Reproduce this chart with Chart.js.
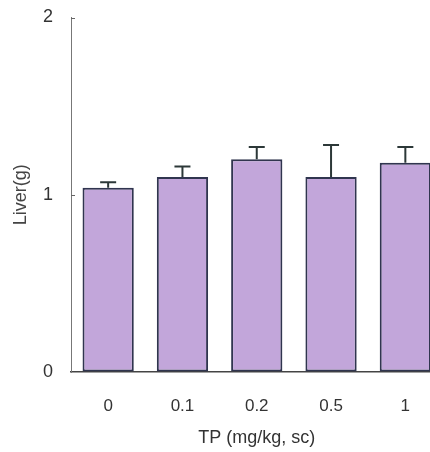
<!DOCTYPE html>
<html>
<head>
<meta charset="utf-8">
<script src="https://cdn.jsdelivr.net/npm/chart.js@4"></script>
<style>
  html, body { margin: 0; padding: 0; background: #fff; overflow: hidden; }
  #wrap { width: 460px; height: 452px; }
</style>
</head>
<body>
<div id="wrap"><canvas id="c" width="460" height="452"></canvas></div>
<script>
// Liver weight by TP dose (mean + SD)
const doses = ['0', '0.1', '0.2', '0.5', '1'];
const liverMean = [1.04, 1.10, 1.20, 1.10, 1.18];
const liverSD = [0.03, 0.06, 0.07, 0.18, 0.09];
const yTicks = [0, 1, 2];

const FONT = '"Liberation Sans", Arial, Helvetica, sans-serif';

// Upward error whiskers with a short cap, placed from each bar element
const errorBars = {
  id: 'errorBars',
  afterDatasetsDraw(chart) {
    const ctx = chart.ctx;
    const yScale = chart.scales.y;
    const meta = chart.getDatasetMeta(0);
    ctx.save();
    ctx.strokeStyle = '#2c3838';
    ctx.lineWidth = 2;
    meta.data.forEach((bar, i) => {
      const x = bar.x;
      const yTop = yScale.getPixelForValue(liverMean[i] + liverSD[i]);
      const yBase = yScale.getPixelForValue(liverMean[i]);
      ctx.beginPath();
      ctx.moveTo(x, yBase);
      ctx.lineTo(x, yTop);
      ctx.moveTo(x - 8, yTop);
      ctx.lineTo(x + 8, yTop);
      ctx.stroke();
    });
    ctx.restore();
  }
};

// Short inward tick marks on the value axis
const innerTicks = {
  id: 'innerTicks',
  afterDraw(chart) {
    const ctx = chart.ctx;
    const yScale = chart.scales.y;
    const x0 = chart.chartArea.left;
    ctx.save();
    ctx.strokeStyle = '#666';
    ctx.lineWidth = 1;
    yTicks.forEach(v => {
      if (v === 0) return;
      const y = Math.round(yScale.getPixelForValue(v)) + 0.5;
      ctx.beginPath();
      ctx.moveTo(x0, y);
      ctx.lineTo(x0 + 4, y);
      ctx.stroke();
    });
    ctx.restore();
  }
};

new Chart(document.getElementById('c'), {
  type: 'bar',
  data: {
    labels: doses,
    datasets: [{
      data: liverMean,
      backgroundColor: '#c2a6da',
      borderColor: '#30354f',
      borderWidth: 2,
      borderSkipped: false,
      categoryPercentage: 1,
      barPercentage: 0.69
    }]
  },
  options: {
    responsive: false,
    animation: false,
    layout: { padding: { top: 17.5, right: 17.5, bottom: 0, left: 0 } },
    plugins: {
      legend: { display: false },
      tooltip: { enabled: false }
    },
    scales: {
      x: {
        afterFit(scale) { scale.height = 80; },
        grid: { display: false, drawTicks: false },
        border: { display: true, color: '#444', width: 1.5 },
        ticks: {
          color: '#333',
          padding: 24,
          font: { family: FONT, size: 17 }
        },
        title: {
          display: true,
          text: 'TP (mg/kg, sc)',
          color: '#333',
          font: { family: FONT, size: 18 },
          padding: { top: 0, bottom: 3 }
        }
      },
      y: {
        min: 0,
        max: 2,
        afterFit(scale) { scale.width = 71; },
        afterBuildTicks(scale) { scale.ticks = yTicks.map(v => ({ value: v })); },
        grid: {
          display: true,
          drawOnChartArea: false,
          drawTicks: true,
          tickLength: 18,
          tickColor: 'rgba(0,0,0,0)'
        },
        border: { display: true, color: '#777', width: 1 },
        ticks: {
          color: '#333',
          padding: 0,
          font: { family: FONT, size: 18 }
        },
        title: {
          display: true,
          text: 'Liver(g)',
          color: '#444',
          font: { family: FONT, size: 18 },
          padding: { top: 10, bottom: 0 }
        }
      }
    }
  },
  plugins: [errorBars, innerTicks]
});
</script>
</body>
</html>
